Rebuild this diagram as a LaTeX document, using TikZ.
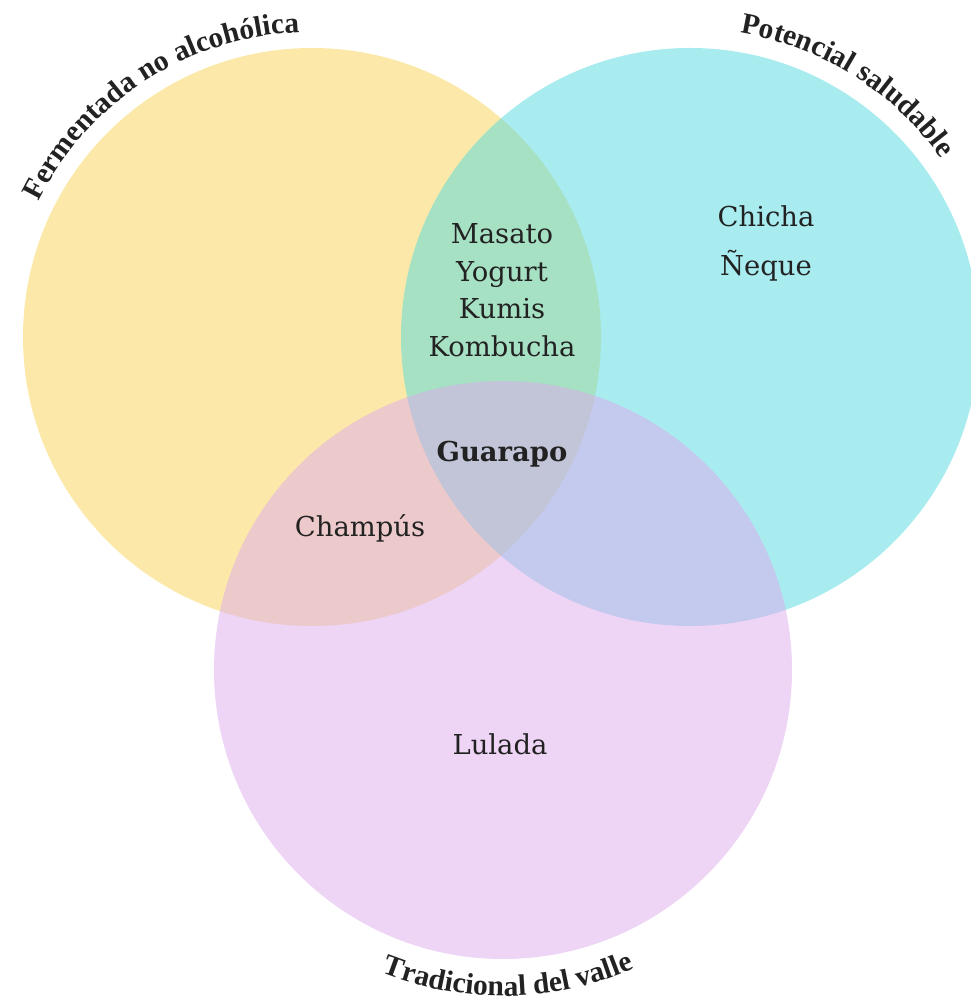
\documentclass[tikz,border=0pt]{standalone}
\usepackage{fontspec}
\setmainfont{DejaVu Serif}
\newfontfamily\titlefont{Liberation Serif}
\usetikzlibrary{decorations.text}
\definecolor{fermyellow}{RGB}{249,211,83}
\definecolor{saludcyan}{RGB}{83,217,225}
\definecolor{vallepink}{RGB}{221,169,235}
\definecolor{inktext}{RGB}{34,34,34}

\begin{document}
\begin{tikzpicture}[
    x=0.025cm, y=0.025cm,
    setfill/.style={fill opacity=0.5, draw=none},
    item/.style={font=\fontsize{19.5}{26.7}\selectfont, text=inktext, align=center, inner sep=0pt},
    setlabel/.style={decorate, decoration={text along path, text align=center,
        text={|\titlefont\fontsize{21}{24}\selectfont\bfseries\color{inktext}|#1}}}
]
    \useasboundingbox (0,0) rectangle (971,1006);

    \coordinate (ferm) at (312,669);
    \coordinate (salud) at (690,669);
    \coordinate (valle) at (503,336);

    % the three sets
    \fill[setfill, fermyellow] (ferm) circle[radius=289];
    \fill[setfill, saludcyan] (salud) circle[radius=289];
    \fill[setfill, vallepink] (valle) circle[radius=289];

    % curved titles
    \path[setlabel={Fermentada no alcohólica}] (ferm) ++(170:305) arc[start angle=170, end angle=76, radius=305];
    \path[setlabel={Potencial saludable}] (salud) ++(105:308) arc[start angle=105, end angle=11, radius=308];
    \path[setlabel={Tradicional del valle}] (valle) ++(-136:326) arc[start angle=-136, end angle=-42, radius=326];

    % members
    \node[item] (mixto) at (502,716) {Masato\\Yogurt\\Kumis\\Kombucha};
    \node[item, anchor=base] (chicha) at (766,779) {Chicha};
    \node[item, anchor=base] (neque) at (766,730) {Ñeque};
    \node[item, anchor=base, font=\fontsize{19.5}{26.7}\selectfont\bfseries] (guarapo) at (502,544) {Guarapo};
    \node[item, anchor=base] (champus) at (360,469) {Champús};
    \node[item, anchor=base] (lulada) at (500,251) {Lulada};
\end{tikzpicture}
\end{document}
